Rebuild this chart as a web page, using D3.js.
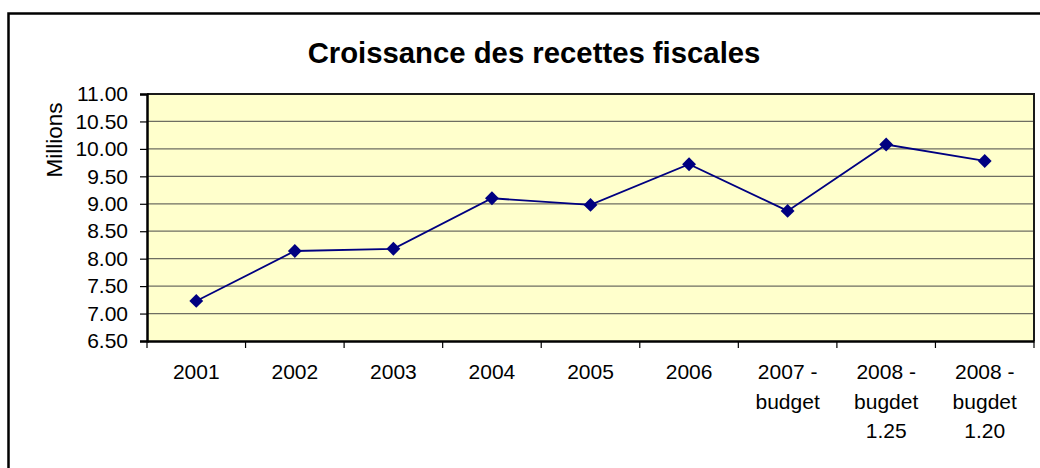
<!DOCTYPE html>
<html>
<head>
<meta charset="utf-8">
<script src="https://cdn.jsdelivr.net/npm/d3@7"></script>
<style>
  body { margin: 0; background: #fff; }
  svg { display: block; font-family: Arial, "Liberation Sans", sans-serif; }
</style>
</head>
<body>
<div id="chart"></div>
<script>
// data
const categories = ["2001", "2002", "2003", "2004", "2005", "2006", "2007 - budget", "2008 - bugdet 1.25", "2008 - bugdet 1.20"];
const labelLines = [["2001"], ["2002"], ["2003"], ["2004"], ["2005"], ["2006"], ["2007 -", "budget"], ["2008 -", "bugdet", "1.25"], ["2008 -", "bugdet", "1.20"]];
const values = [7.23, 8.14, 8.18, 9.10, 8.98, 9.72, 8.87, 10.08, 9.78];
const yTicks = [6.5, 7, 7.5, 8, 8.5, 9, 9.5, 10, 10.5, 11];

const width = 1040, height = 468;
const plot = { left: 147, top: 94, right: 1034, bottom: 341 };

const svg = d3.select("#chart").append("svg")
  .attr("width", width)
  .attr("height", height);

// outer chart frame (cut off at right and bottom like the original)
svg.append("rect")
  .attr("x", 8.5).attr("y", 13.5)
  .attr("width", 1060).attr("height", 480)
  .attr("fill", "#fff")
  .attr("stroke", "#000")
  .attr("stroke-width", 2.5);

const x = d3.scaleBand()
  .domain(categories)
  .range([plot.left, plot.right]);

const y = d3.scaleLinear()
  .domain([6.5, 11])
  .range([plot.bottom, plot.top]);

// plot background
svg.append("rect")
  .attr("x", plot.left).attr("y", plot.top)
  .attr("width", plot.right - plot.left)
  .attr("height", plot.bottom - plot.top)
  .attr("fill", "#ffffcc");

// gridlines
svg.append("g")
  .selectAll("line")
  .data(yTicks.filter(d => d > 6.5 && d < 11))
  .join("line")
  .attr("x1", plot.left).attr("x2", plot.right)
  .attr("y1", d => y(d)).attr("y2", d => y(d))
  .attr("stroke", "#6e6e62")
  .attr("stroke-width", 1.3);

// plot border (top + right)
svg.append("path")
  .attr("d", `M${plot.left},${plot.top}H${plot.right}V${plot.bottom}`)
  .attr("fill", "none")
  .attr("stroke", "#1a1a1a")
  .attr("stroke-width", 2);

// y axis
const yAxis = svg.append("g")
  .attr("transform", `translate(${plot.left},0)`)
  .call(d3.axisLeft(y).tickValues(yTicks).tickFormat(d3.format(".2f")).tickSize(7).tickPadding(12));
yAxis.select(".domain").attr("stroke-width", 2.5);
yAxis.selectAll(".tick line").attr("stroke-width", 1.2);
yAxis.selectAll("text")
  .attr("font-size", 21)
  .attr("font-family", "Arial, 'Liberation Sans', sans-serif")
  .attr("fill", "#000");

// x axis
const xAxis = svg.append("g")
  .attr("transform", `translate(0,${plot.bottom})`)
  .call(d3.axisBottom(x).tickSize(0).tickFormat(""));
xAxis.select(".domain").attr("stroke-width", 2.5);

// x tick marks at category boundaries
xAxis.append("g")
  .selectAll("line")
  .data(categories.concat([null]))
  .join("line")
  .attr("x1", d => d ? x(d) : x.range()[1])
  .attr("x2", d => d ? x(d) : x.range()[1])
  .attr("y1", 0).attr("y2", 7)
  .attr("stroke", "#000")
  .attr("stroke-width", 1.2);

// multi-line x labels
svg.append("g")
  .attr("font-size", 21)
  .attr("text-anchor", "middle")
  .selectAll("text")
  .data(categories)
  .join("text")
  .attr("transform", d => `translate(${x(d) + x.bandwidth() / 2},379)`)
  .selectAll("tspan")
  .data((d, i) => labelLines[i])
  .join("tspan")
  .attr("x", 0)
  .attr("y", (d, i) => i * 29.5)
  .text(d => d);

// series line
const line = d3.line()
  .x((d, i) => x(categories[i]) + x.bandwidth() / 2)
  .y(d => y(d));

svg.append("path")
  .datum(values)
  .attr("d", line)
  .attr("fill", "none")
  .attr("stroke", "#000080")
  .attr("stroke-width", 1.8);

// diamond markers
svg.append("g")
  .selectAll("path")
  .data(values)
  .join("path")
  .attr("d", d3.symbol(d3.symbolSquare, 96))
  .attr("transform", (d, i) => `translate(${x(categories[i]) + x.bandwidth() / 2},${y(d)}) rotate(45)`)
  .attr("fill", "#000080");

// title
svg.append("text")
  .attr("x", 534)
  .attr("y", 63)
  .attr("text-anchor", "middle")
  .attr("font-size", 29.3)
  .attr("font-weight", "bold")
  .text("Croissance des recettes fiscales");

// y axis title
svg.append("text")
  .attr("transform", "translate(62,140) rotate(-90)")
  .attr("text-anchor", "middle")
  .attr("font-size", 22.5)
  .text("Millions");
</script>
</body>
</html>
